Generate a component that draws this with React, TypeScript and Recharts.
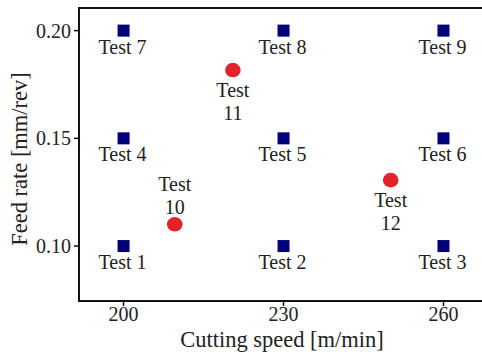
import React from 'react';
import { ScatterChart, Scatter, XAxis, YAxis, ReferenceArea } from 'recharts';

document.body.style.margin = '0';

const FONT = '"Liberation Serif", "Times New Roman", serif';

// design points (3x3 grid)
const gridSpeed = [200, 230, 260, 200, 230, 260, 200, 230, 260];
const gridFeed = [0.1, 0.1, 0.1, 0.15, 0.15, 0.15, 0.2, 0.2, 0.2];
const gridNames = ['Test 1', 'Test 2', 'Test 3', 'Test 4', 'Test 5', 'Test 6', 'Test 7', 'Test 8', 'Test 9'];

// extra validation points
const extraSpeed = [209.6, 220.5, 250.1];
const extraFeed = [0.1101, 0.1817, 0.1306];
const extraNames = ['Test 10', 'Test 11', 'Test 12'];
const extraLabelSide = ['above', 'below', 'below'];

const xTicks = [200, 230, 260];
const yTicks = [0.1, 0.15, 0.2];
const xDomain = [191.64, 267.6];
const yDomain = [0.0745, 0.2105];

const gridData = gridSpeed.map((x, i) => ({ x, y: gridFeed[i], name: gridNames[i] }));
const extraData = extraSpeed.map((x, i) => ({ x, y: extraFeed[i], name: extraNames[i], side: extraLabelSide[i] }));

const SquareShape = (props: any) => {
  const { cx, cy, payload } = props;
  return (
    <g>
      <rect x={cx - 6} y={cy - 6} width={12} height={12} fill="#00007a" />
      <text x={cx - 1} y={cy + 23} textAnchor="middle" fontSize={20} fontFamily={FONT} fill="#222">
        {payload.name}
      </text>
    </g>
  );
};

const CircleShape = (props: any) => {
  const { cx, cy, payload } = props;
  const [word, num] = payload.name.split(' ');
  const y1 = payload.side === 'above' ? cy - 33 : cy + 27;
  const y2 = payload.side === 'above' ? cy - 10 : cy + 50;
  return (
    <g>
      <ellipse cx={cx} cy={cy} rx={7.8} ry={7.3} fill="#e3232a" />
      <text x={cx} y={y1} textAnchor="middle" fontSize={20} fontFamily={FONT} fill="#222">{word}</text>
      <text x={cx} y={y2} textAnchor="middle" fontSize={20} fontFamily={FONT} fill="#222">{num}</text>
    </g>
  );
};

const XTick = (props: any) => {
  const { x, y, payload } = props;
  return (
    <text x={x} y={y + 15} textAnchor="middle" fontSize={20} fontFamily={FONT} fill="#222">
      {payload.value}
    </text>
  );
};

const YTick = (props: any) => {
  const { x, y, payload } = props;
  return (
    <text x={x} y={y + 7} textAnchor="end" fontSize={20} fontFamily={FONT} fill="#222">
      {Number(payload.value).toFixed(2)}
    </text>
  );
};

const XTitle = () => (
  <text x={282} y={347} textAnchor="middle" fontSize={22.5} fontFamily={FONT} fill="#222">
    Cutting speed [m/min]
  </text>
);

const YTitle = () => (
  <text x={0} y={0} transform="translate(27,159) rotate(-90)" textAnchor="middle" fontSize={22.5} fontFamily={FONT} fill="#222">
    Feed rate [mm/rev]
  </text>
);

export default function App() {
  return (
    <ScatterChart width={482} height={356} margin={{ top: 8, right: -2, bottom: 0, left: 0 }}>
      <XAxis
        type="number"
        dataKey="x"
        domain={xDomain}
        ticks={xTicks}
        allowDataOverflow
        height={55}
        tickSize={5}
        tickMargin={0}
        axisLine={false}
        tickLine={{ stroke: '#111', strokeWidth: 1.5 }}
        tick={<XTick />}
        label={<XTitle />}
      />
      <YAxis
        type="number"
        dataKey="y"
        domain={yDomain}
        ticks={yTicks}
        allowDataOverflow
        width={79}
        tickSize={5}
        tickMargin={3}
        axisLine={false}
        tickLine={{ stroke: '#111', strokeWidth: 1.5 }}
        tick={<YTick />}
        label={<YTitle />}
      />
      <ReferenceArea
        x1={xDomain[0]}
        x2={xDomain[1]}
        y1={yDomain[0]}
        y2={yDomain[1]}
        fill="none"
        stroke="#111"
        strokeWidth={2}
        ifOverflow="visible"
      />
      <Scatter data={gridData} shape={SquareShape} isAnimationActive={false} />
      <Scatter data={extraData} shape={CircleShape} isAnimationActive={false} />
    </ScatterChart>
  );
}
